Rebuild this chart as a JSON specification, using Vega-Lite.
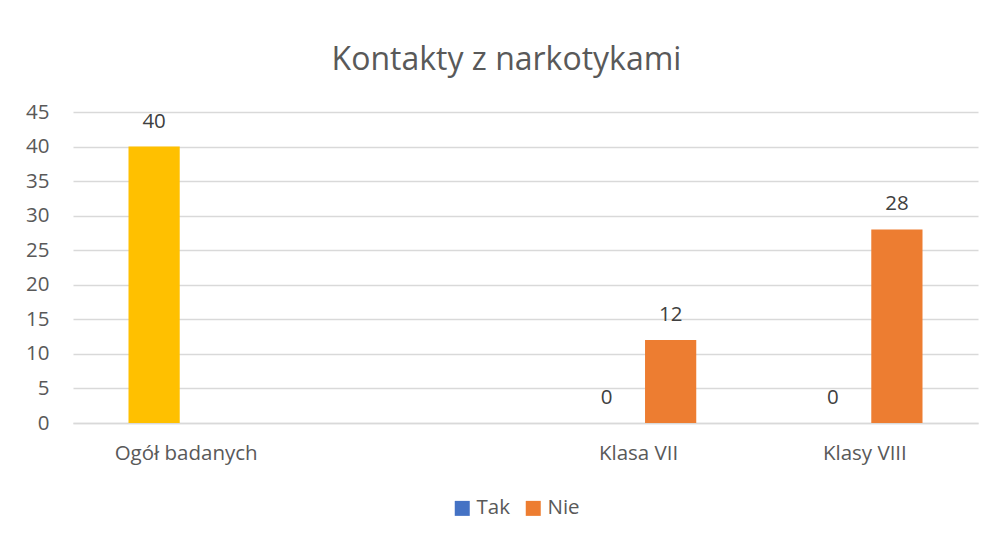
{
  "$schema": "https://vega.github.io/schema/vega-lite/v6.json",
  "width": 905,
  "height": 311,
  "autosize": {"type": "none"},
  "padding": {"left": 73, "top": 112, "right": 15, "bottom": 118},
  "background": "white",
  "config": {
    "font": "Open Sans",
    "view": {"stroke": null}
  },
  "title": {
    "text": "Kontakty z narkotykami",
    "fontSize": 32,
    "font": "Open Sans",
    "fontWeight": "normal",
    "color": "#595959",
    "anchor": "middle",
    "dx": -19,
    "offset": 25
  },
  "data": {
    "values": [
      {"kategoria": "Ogół badanych", "seria": "Tak", "wartosc": 40},
      {"kategoria": "Klasa VII", "seria": "Tak", "wartosc": 0},
      {"kategoria": "Klasa VII", "seria": "Nie", "wartosc": 12},
      {"kategoria": "Klasy VIII", "seria": "Tak", "wartosc": 0},
      {"kategoria": "Klasy VIII", "seria": "Nie", "wartosc": 28}
    ]
  },
  "encoding": {
    "x": {
      "field": "kategoria",
      "type": "nominal",
      "sort": null,
      "scale": {"domain": ["Ogół badanych", " ", "Klasa VII", "Klasy VIII"], "paddingInner": 0.434, "paddingOuter": 0.217},
      "axis": {
        "title": null,
        "labelAngle": 0,
        "labelFontSize": 20.5,
        "labelColor": "#595959",
        "labelPadding": 20,
        "ticks": false,
        "domainColor": "#D9D9D9",
        "domainWidth": 1.5
      }
    },
    "xOffset": {
      "field": "seria",
      "type": "nominal",
      "scale": {"domain": ["Tak", "Nie"], "paddingInner": 0.2, "paddingOuter": 0.1}
    },
    "y": {
      "field": "wartosc",
      "type": "quantitative",
      "scale": {"domain": [0, 45]},
      "axis": {
        "title": null,
        "values": [0, 5, 10, 15, 20, 25, 30, 35, 40, 45],
        "labelFontSize": 20.5,
        "labelColor": "#595959",
        "labelPadding": 24,
        "ticks": false,
        "domain": false,
        "gridColor": "#D9D9D9",
        "gridWidth": 1.5
      }
    }
  },
  "layer": [
    {
      "mark": {"type": "bar"},
      "encoding": {
        "color": {
          "condition": {"test": "datum.kategoria === 'Ogół badanych'", "value": "#FFC000"},
          "field": "seria",
          "type": "nominal",
          "scale": {"domain": ["Tak", "Nie"], "range": ["#4472C4", "#ED7D31"]},
          "legend": {
            "title": null,
            "orient": "none",
            "legendX": 379,
            "legendY": 386,
            "direction": "horizontal",
            "symbolType": "square",
            "symbolSize": 225,
            "symbolStrokeWidth": 0,
            "symbolOpacity": 1,
            "labelFontSize": 20.5,
            "labelColor": "#595959",
            "labelOffset": 4,
            "columnPadding": 13
          }
        }
      }
    },
    {
      "mark": {"type": "text", "baseline": "alphabetic", "dy": -19, "fontSize": 20.5, "color": "#404040"},
      "encoding": {
        "text": {"field": "wartosc", "type": "quantitative"}
      }
    }
  ]
}
